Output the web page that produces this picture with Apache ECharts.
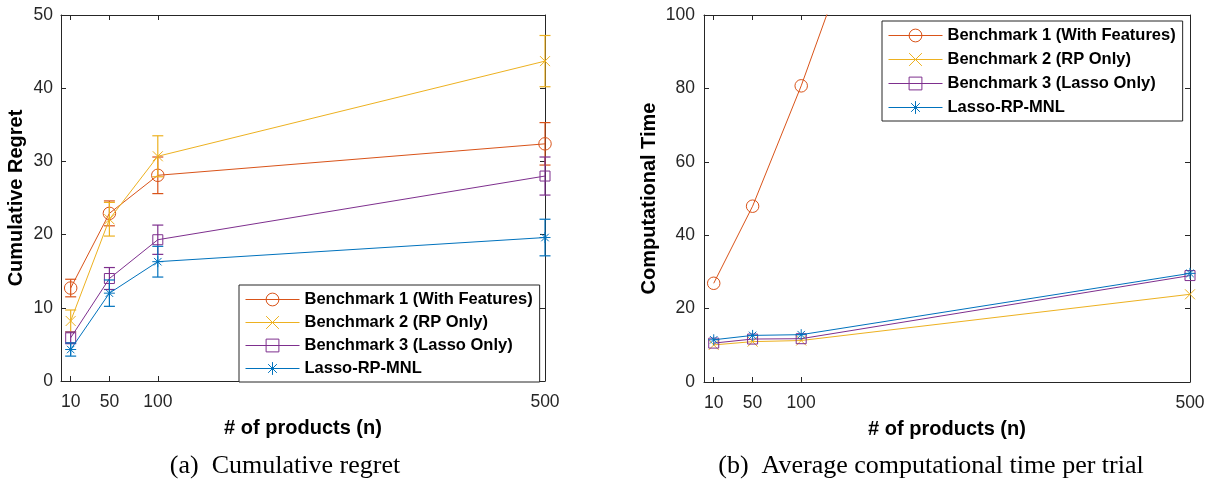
<!DOCTYPE html>
<html>
<head>
<meta charset="utf-8">
<script src="https://cdn.jsdelivr.net/npm/echarts@6/dist/echarts.min.js"></script>
<style>
html,body{margin:0;padding:0;background:#fff;}
#chart{width:1209px;height:479px;pointer-events:none;}
</style>
</head>
<body>
<div id="chart"></div>
<script>
// ---------- data ----------
const nValues = [10, 50, 100, 500];
const xTicks = [10, 50, 100, 500];
const seriesNames = ['Benchmark 1 (With Features)', 'Benchmark 2 (RP Only)', 'Benchmark 3 (Lasso Only)', 'Lasso-RP-MNL'];

// (a) cumulative regret: means and error half-widths
const regretB1 = [12.7, 22.9, 28.1, 32.4];
const regretB2 = [8.2, 22.1, 30.7, 43.7];
const regretB3 = [5.9, 14.0, 19.3, 28.0];
const regretLasso = [4.3, 12.0, 16.3, 19.6];
const regretErrB1 = [1.2, 1.7, 2.5, 2.9];
const regretErrB2 = [1.5, 2.3, 2.8, 3.5];
const regretErrB3 = [0.8, 1.5, 2.0, 2.6];
const regretErrLasso = [0.9, 1.8, 2.1, 2.5];

// (b) average computational time
const timeB1 = [26.9, 47.9, 80.7, 375];
const timeB2 = [10.1, 11.0, 11.3, 23.9];
const timeB3 = [10.6, 11.7, 11.8, 29.0];
const timeLasso = [11.5, 12.7, 12.9, 29.6];

const regretTicks = {min: 0, max: 50, interval: 10};
const timeTicks = {min: 0, max: 100, interval: 20};

// ---------- styles ----------
const colors = ['#D95319', '#EDB120', '#7E2F8E', '#0072BD'];
const symbols = [
  'circle',
  'path://M0,0L10,10M10,0L0,10',
  'rect',
  'path://M5,0L5,10M0,5L10,5M1.6,1.6L8.4,8.4M8.4,1.6L1.6,8.4'
];
const symbolSizes = [12.5, 10, 10, 11];
const SANS = '"Liberation Sans", Arial, Helvetica, sans-serif';
const SERIF = '"Liberation Serif", "Times New Roman", serif';
const AX = '#262626';

function pairs(xs, ys) { return xs.map((x, i) => [x, ys[i]]); }
function bars(xs, ys, es) { return xs.map((x, i) => [x, ys[i] - es[i], ys[i] + es[i]]); }

function lineSeries(k, ys, xi, yi) {
  return {
    type: 'line', name: seriesNames[k], xAxisIndex: xi, yAxisIndex: yi,
    data: pairs(nValues, ys),
    symbol: symbols[k], symbolSize: symbolSizes[k], showSymbol: true,
    lineStyle: {color: colors[k], width: 1},
    itemStyle: {color: 'transparent', borderColor: colors[k], borderWidth: 1},
    emphasis: {disabled: true}, silent: true, clip: true, animation: false, z: 3 + k
  };
}
function errSeries(k, ys, es, xi, yi) {
  const col = colors[k];
  return {
    type: 'custom', xAxisIndex: xi, yAxisIndex: yi,
    data: bars(nValues, ys, es),
    encode: {x: 0, y: [1, 2]},
    animation: false, silent: true, z: 3 + k,
    renderItem: function (params, api) {
      const lo = api.coord([api.value(0), api.value(1)]);
      const hi = api.coord([api.value(0), api.value(2)]);
      const w = 5.5;
      const st = {stroke: col, lineWidth: 1.2};
      return {type: 'group', children: [
        {type: 'line', shape: {x1: lo[0], y1: lo[1], x2: hi[0], y2: hi[1]}, style: st},
        {type: 'line', shape: {x1: lo[0] - w, y1: lo[1], x2: lo[0] + w, y2: lo[1]}, style: st},
        {type: 'line', shape: {x1: hi[0] - w, y1: hi[1], x2: hi[0] + w, y2: hi[1]}, style: st}
      ]};
    }
  };
}

function xAxisPair(gi, name) {
  const base = {
    type: 'value', gridIndex: gi, min: 0, max: 500,
    axisLine: {show: true, onZero: false, lineStyle: {color: AX, width: 1}},
    axisTick: {show: true, inside: true, length: 5, customValues: xTicks, lineStyle: {color: AX}},
    splitLine: {show: false}
  };
  return [
    Object.assign({}, base, {
      position: 'bottom', name: name, nameLocation: 'middle', nameGap: 37,
      nameTextStyle: {fontFamily: SANS, fontWeight: 'bold', fontSize: 20, color: '#000'},
      axisLabel: {show: true, customValues: xTicks, margin: 12, fontFamily: SANS, fontSize: 17.5, color: AX}
    }),
    Object.assign({}, base, {position: 'top', axisLabel: {show: false}})
  ];
}
function yAxisPair(gi, ticks, name, gap, margin) {
  const base = {
    type: 'value', gridIndex: gi, min: ticks.min, max: ticks.max, interval: ticks.interval,
    axisLine: {show: true, onZero: false, lineStyle: {color: AX, width: 1}},
    axisTick: {show: true, inside: true, length: 5, lineStyle: {color: AX}},
    splitLine: {show: false}
  };
  return [
    Object.assign({}, base, {
      position: 'left', name: name, nameLocation: 'middle', nameGap: gap,
      nameTextStyle: {fontFamily: SANS, fontWeight: 'bold', fontSize: 20, color: '#000'},
      axisLabel: {show: true, margin: margin, fontFamily: SANS, fontSize: 17.5, color: AX}
    }),
    Object.assign({}, base, {position: 'right', axisLabel: {show: false}})
  ];
}
function legend(left, top, gap) {
  return {
    orient: 'vertical', left: left, top: top, itemWidth: 54, itemHeight: 16, itemGap: gap,
    padding: [6, 7, 5, 6], borderColor: AX, borderWidth: 1, backgroundColor: '#fff',
    textStyle: {fontFamily: SANS, fontWeight: 'bold', fontSize: 16.5, color: '#000'},
    itemStyle: {borderWidth: 1}, lineStyle: {width: 1},
    selectedMode: false, data: seriesNames, z: 10
  };
}

const regretSets = [regretB1, regretB2, regretB3, regretLasso];
const regretErrs = [regretErrB1, regretErrB2, regretErrB3, regretErrLasso];
const timeSets = [timeB1, timeB2, timeB3, timeLasso];

const series = [];
regretSets.forEach((ys, k) => { series.push(lineSeries(k, ys, 0, 0)); });
regretSets.forEach((ys, k) => { series.push(errSeries(k, ys, regretErrs[k], 0, 0)); });
timeSets.forEach((ys, k) => { series.push(lineSeries(k, ys, 2, 2)); });

const option = {
  backgroundColor: '#fff',
  animation: false,
  grid: [
    {left: 61, top: 15, right: 664, bottom: 98, containLabel: false},
    {left: 704, top: 15, right: 19, bottom: 97, containLabel: false}
  ],
  xAxis: [].concat(xAxisPair(0, '# of products (n)'), xAxisPair(1, '# of products (n)')),
  yAxis: [].concat(yAxisPair(0, regretTicks, 'Cumulative Regret', 35, 8), yAxisPair(1, timeTicks, 'Computational Time', 45, 9)),
  legend: [legend(239, 285, 6), legend(882, 21, 7)],
  series: series,
  graphic: [
    {type: 'text', x: 285, y: 466, silent: true, style: {text: '(a)  Cumulative regret', fontFamily: SERIF, fontSize: 26, fill: '#000', align: 'center', verticalAlign: 'middle'}},
    {type: 'text', x: 931, y: 466, silent: true, style: {text: '(b)  Average computational time per trial', fontFamily: SERIF, fontSize: 26, fill: '#000', align: 'center', verticalAlign: 'middle'}}
  ]
};

const chart = echarts.init(document.getElementById('chart'), null, {renderer: 'canvas'});
chart.setOption(option);
</script>
</body>
</html>
